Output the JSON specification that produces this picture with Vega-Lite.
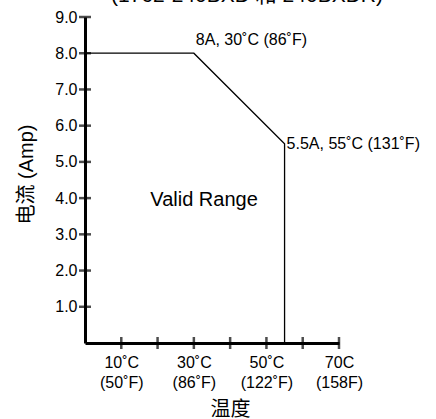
{
  "$schema": "https://vega.github.io/schema/vega-lite/v6.json",
  "width": 254,
  "height": 326,
  "autosize": {"type": "none"},
  "padding": {"left": 85, "top": 17, "right": 97, "bottom": 76},
  "background": "white",
  "config": {
    "view": {"stroke": null},
    "font": "Liberation Sans, Noto Sans CJK SC",
    "axis": {"grid": false}
  },
  "title": {
    "text": "(1762-240BXD 和 240BXDR)",
    "fontSize": 21,
    "fontWeight": "normal",
    "color": "black",
    "anchor": "middle",
    "baseline": "alphabetic",
    "dx": 35,
    "dy": 16,
    "offset": 2
  },
  "datasets": {
    "curve": [
      {"temp": 0, "amp": 8},
      {"temp": 30, "amp": 8},
      {"temp": 55, "amp": 5.5},
      {"temp": 55, "amp": 0}
    ],
    "notes": [
      {"temp": 30, "amp": 8.37, "label": "8A, 30˚C (86˚F)"},
      {"temp": 55, "amp": 5.5, "label": "5.5A, 55˚C (131˚F)"}
    ],
    "region": [
      {"temp": 32.8, "amp": 3.95, "label": "Valid Range"}
    ],
    "xticks": [
      {"temp": 10, "amp": 0}, {"temp": 20, "amp": 0}, {"temp": 30, "amp": 0}, {"temp": 40, "amp": 0},
      {"temp": 50, "amp": 0}, {"temp": 60, "amp": 0}, {"temp": 70, "amp": 0}
    ],
    "yticks": [
      {"temp": 0, "amp": 1}, {"temp": 0, "amp": 2}, {"temp": 0, "amp": 3}, {"temp": 0, "amp": 4}, {"temp": 0, "amp": 5},
      {"temp": 0, "amp": 6}, {"temp": 0, "amp": 7}, {"temp": 0, "amp": 8}, {"temp": 0, "amp": 9}
    ]
  },
  "encoding": {
    "x": {
      "field": "temp", "type": "quantitative",
      "scale": {"domain": [0, 70], "nice": false},
      "axis": {
        "title": "温度",
        "titleFontSize": 20,
        "titleFontWeight": "normal",
        "titleColor": "black",
        "titlePadding": 9,
        "titleX": 145,
        "values": [10, 30, 50, 70],
        "ticks": false,
        "labelFlush": false,
        "labelOverlap": false,
        "labelPadding": 11,
        "labelFontSize": 16,
        "labelColor": "black",
        "labelLineHeight": 20,
        "labelExpr": "datum.value == 10 ? ['10˚C', '(50˚F)'] : datum.value == 30 ? ['30˚C', '(86˚F)'] : datum.value == 50 ? ['50˚C', '(122˚F)'] : datum.value == 70 ? ['70C', '(158F)'] : ''",
        "domainColor": "black",
        "domainWidth": 3
      }
    },
    "y": {
      "field": "amp", "type": "quantitative",
      "scale": {"domain": [0, 9], "nice": false},
      "axis": {
        "title": "电流 (Amp)",
        "titleFontSize": 20,
        "titleFontWeight": "normal",
        "titleColor": "black",
        "titlePadding": 18,
        "titleY": 157,
        "values": [1, 2, 3, 4, 5, 6, 7, 8, 9],
        "format": ".1f",
        "ticks": false,
        "labelFlush": false,
        "labelOverlap": false,
        "labelPadding": 8,
        "labelFontSize": 16,
        "labelColor": "black",
        "domainColor": "black",
        "domainWidth": 3
      }
    }
  },
  "layer": [
    {
      "data": {"name": "curve"},
      "mark": {"type": "line", "color": "black", "strokeWidth": 1.3},
      "encoding": {"order": {"value": 0}}
    },
    {
      "data": {"name": "xticks"},
      "mark": {"type": "tick", "orient": "vertical", "size": 12, "thickness": 2.5, "color": "black"}
    },
    {
      "data": {"name": "yticks"},
      "mark": {"type": "tick", "orient": "horizontal", "size": 12, "thickness": 2.5, "color": "black"}
    },
    {
      "data": {"name": "notes"},
      "mark": {"type": "text", "align": "left", "baseline": "middle", "dx": 2, "fontSize": 16, "color": "black"},
      "encoding": {"text": {"field": "label"}}
    },
    {
      "data": {"name": "region"},
      "mark": {"type": "text", "align": "center", "baseline": "middle", "fontSize": 20, "color": "black"},
      "encoding": {"text": {"field": "label"}}
    }
  ]
}
